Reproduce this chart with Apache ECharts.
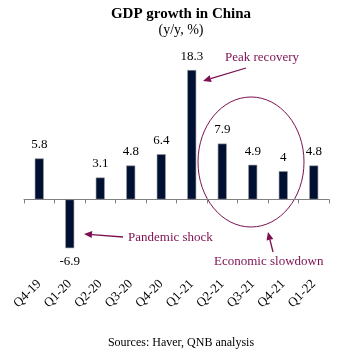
<!DOCTYPE html>
<html><head><meta charset="utf-8">
<script src="https://cdn.jsdelivr.net/npm/echarts@6/dist/echarts.min.js"></script>
<style>html,body{margin:0;padding:0;background:#fff}#c{width:341px;height:352px}</style>
</head><body><div id="c"></div>
<script>
const categories = ['Q4-19','Q1-20','Q2-20','Q3-20','Q4-20','Q1-21','Q2-21','Q3-21','Q4-21','Q1-22'];
const gdpGrowth = [5.8, -6.9, 3.1, 4.8, 6.4, 18.3, 7.9, 4.9, 4, 4.8];
const titleText = 'GDP growth in China';
const subtitleText = '(y/y, %)';
const sourceText = 'Sources: Haver, QNB analysis';

const MAROON = '#7c1050';
const SERIF = '"Liberation Serif","Times New Roman",serif';

function arrow(x1, y1, x2, y2) {
  const ang = Math.atan2(y2 - y1, x2 - x1);
  const L = 8, W = 3.5;
  const bx = x2 - L * Math.cos(ang), by = y2 - L * Math.sin(ang);
  const px = -Math.sin(ang) * W, py = Math.cos(ang) * W;
  return [
    {type:'line', shape:{x1:x1, y1:y1, x2:bx, y2:by}, style:{stroke:MAROON, lineWidth:1.3}},
    {type:'polygon', shape:{points:[[x2,y2],[bx+px,by+py],[bx-px,by-py]]}, style:{fill:MAROON}}
  ];
}

const chart = echarts.init(document.getElementById('c'));
chart.setOption({
  backgroundColor:'#fff',
  animation:false,
  title:[
    {text:titleText, left:176, top:2, textAlign:'center',
     textStyle:{fontFamily:SERIF, fontWeight:'bold', fontSize:15, color:'#000'}},
    {text:subtitleText, left:176, top:18, textAlign:'center',
     textStyle:{fontFamily:SERIF, fontWeight:'normal', fontSize:14, color:'#000'}},
    {text:sourceText, left:176, top:332, textAlign:'center',
     textStyle:{fontFamily:SERIF, fontWeight:'normal', fontSize:12, color:'#000'}}
  ],
  grid:{left:24, right:12, top:58, bottom:96, outerBoundsMode:'none', containLabel:false},
  xAxis:{type:'category', data:categories,
    axisLine:{onZero:true, lineStyle:{color:'#808080', width:1}},
    axisTick:{show:true, length:4, lineStyle:{color:'#808080'}},
    axisLabel:{rotate:45, margin:26, fontFamily:SERIF, fontSize:13, color:'#000'}
  },
  yAxis:{type:'value', min:-8, max:20, show:false, splitLine:{show:false}},
  series:[{
    type:'bar', data:gdpGrowth.map(v=>({value:v, label:{position: v<0?'bottom':'top'}})),
    barWidth:9,
    itemStyle:{color:'#001033', borderColor:'#9a9a9a', borderWidth:0.6},
    label:{show:true, distance:7, fontFamily:SERIF, fontSize:13, color:'#000',
      formatter:p=>String(p.value)}
  }],
  graphic:[
    {type:'text', left:225, top:51, style:{text:'Peak recovery', font:'13px '+SERIF, fill:MAROON}},
    ...arrow(246, 68, 203, 81),
    {type:'text', left:128, top:231, style:{text:'Pandemic shock', font:'13px '+SERIF, fill:MAROON}},
    ...arrow(123, 237, 84, 234),
    {type:'text', left:214, top:255, style:{text:'Economic slowdown', font:'13px '+SERIF, fill:MAROON}},
    ...arrow(273, 252, 268, 232),
    {type:'ellipse', shape:{cx:251, cy:162, rx:53, ry:65}, style:{fill:null, stroke:MAROON, lineWidth:1}}
  ]
});
</script></body></html>
